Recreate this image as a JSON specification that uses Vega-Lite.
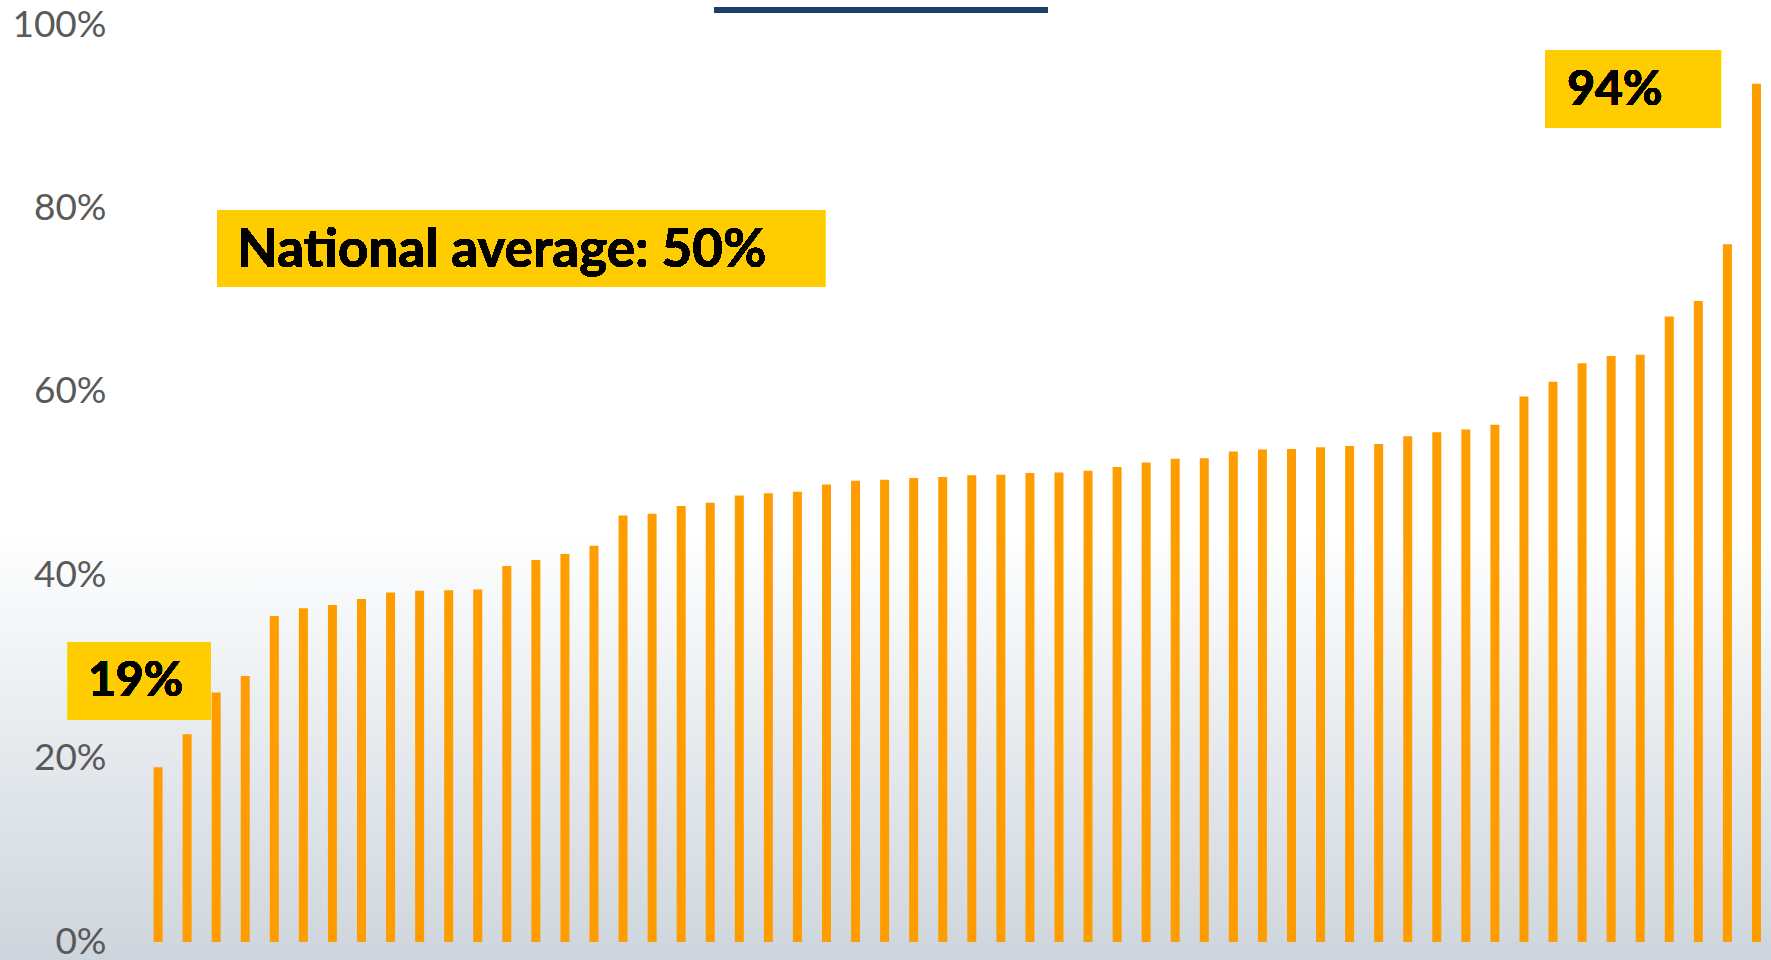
{
  "$schema": "https://vega.github.io/schema/vega-lite/v6.json",
  "width": 1642,
  "height": 917,
  "autosize": {"type": "none"},
  "padding": {"left": 129, "top": 25, "right": 0, "bottom": 18},
  "background": "#FFFFFF",
  "config": {"view": {"stroke": null}},
  "data": {"values": [
    {"i": 1, "v": 19.05}, {"i": 2, "v": 22.65}, {"i": 3, "v": 27.2}, {"i": 4, "v": 29.0},
    {"i": 5, "v": 35.55}, {"i": 6, "v": 36.4}, {"i": 7, "v": 36.75}, {"i": 8, "v": 37.4},
    {"i": 9, "v": 38.1}, {"i": 10, "v": 38.3}, {"i": 11, "v": 38.35}, {"i": 12, "v": 38.45},
    {"i": 13, "v": 41.0}, {"i": 14, "v": 41.65}, {"i": 15, "v": 42.3}, {"i": 16, "v": 43.2},
    {"i": 17, "v": 46.5}, {"i": 18, "v": 46.7}, {"i": 19, "v": 47.55}, {"i": 20, "v": 47.9},
    {"i": 21, "v": 48.7}, {"i": 22, "v": 48.95}, {"i": 23, "v": 49.1}, {"i": 24, "v": 49.9},
    {"i": 25, "v": 50.3}, {"i": 26, "v": 50.4}, {"i": 27, "v": 50.6}, {"i": 28, "v": 50.7},
    {"i": 29, "v": 50.9}, {"i": 30, "v": 50.95}, {"i": 31, "v": 51.15}, {"i": 32, "v": 51.2},
    {"i": 33, "v": 51.4}, {"i": 34, "v": 51.8}, {"i": 35, "v": 52.3}, {"i": 36, "v": 52.7},
    {"i": 37, "v": 52.75}, {"i": 38, "v": 53.5}, {"i": 39, "v": 53.7}, {"i": 40, "v": 53.75},
    {"i": 41, "v": 53.95}, {"i": 42, "v": 54.1}, {"i": 43, "v": 54.3}, {"i": 44, "v": 55.15},
    {"i": 45, "v": 55.6}, {"i": 46, "v": 55.9}, {"i": 47, "v": 56.4}, {"i": 48, "v": 59.5},
    {"i": 49, "v": 61.1}, {"i": 50, "v": 63.1}, {"i": 51, "v": 63.9}, {"i": 52, "v": 64.05},
    {"i": 53, "v": 68.2}, {"i": 54, "v": 69.9}, {"i": 55, "v": 76.1}, {"i": 56, "v": 93.6}
  ]},
  "encoding": {
    "x": {"field": "i", "type": "quantitative", "scale": {"domain": [0, 56.5], "nice": false, "zero": false, "padding": 0}, "axis": null},
    "y": {"field": "v", "type": "quantitative", "scale": {"domain": [0, 100], "nice": false, "padding": 0},
      "axis": {"values": [0, 20, 40, 60, 80, 100], "labelExpr": "datum.value + '%'", "ticks": false, "domain": false, "grid": false, "title": null,
        "labelPadding": 23, "labelFont": "Lato", "labelFontSize": 37, "labelColor": "#595959", "labelFontWeight": "normal", "zindex": 1}}
  },
  "layer": [
    {
      "mark": {"type": "rect", "clip": false,
        "fill": {"gradient": "linear", "x1": 0, "y1": 0, "x2": 0, "y2": 1,
          "stops": [{"offset": 0, "color": "#FFFFFF"}, {"offset": 0.55, "color": "#FFFFFF"}, {"offset": 1, "color": "#CDD5DC"}]}},
      "encoding": {
        "x": {"datum": -4.6}, "x2": {"datum": 56.6},
        "y": {"datum": 103}, "y2": {"datum": -2.3}
      }
    },
    {
      "mark": {"type": "bar", "orient": "vertical", "size": 9, "color": "#FF9D00"},
      "encoding": {}
    },
    {
      "mark": {"type": "rect", "color": "#1F3F68", "clip": false},
      "encoding": {"x": {"datum": 20.13}, "x2": {"datum": 31.62}, "y": {"datum": 101.9}, "y2": {"datum": 101.4}}
    },
    {
      "mark": {"type": "rect", "color": "#FFCC00", "clip": false},
      "encoding": {"x": {"datum": 3.03}, "x2": {"datum": 23.95}, "y": {"datum": 79.83}, "y2": {"datum": 71.43}}
    },
    {
      "mark": {"type": "rect", "color": "#FFCC00", "clip": false},
      "encoding": {"x": {"datum": -2.1}, "x2": {"datum": 2.82}, "y": {"datum": 32.72}, "y2": {"datum": 24.21}}
    },
    {
      "mark": {"type": "rect", "color": "#FFCC00", "clip": false},
      "encoding": {"x": {"datum": 48.73}, "x2": {"datum": 54.78}, "y": {"datum": 97.27}, "y2": {"datum": 88.77}}
    },
    {
      "mark": {"type": "text", "text": "National average: 50%", "align": "left", "baseline": "middle", "font": "Lato", "fontWeight": "bold", "fontSize": 53, "color": "#000000", "clip": false},
      "encoding": {"x": {"datum": 3.72}, "y": {"datum": 75.3}}
    },
    {
      "mark": {"type": "text", "text": "19%", "align": "left", "baseline": "middle", "font": "Lato", "fontWeight": "bold", "fontSize": 48, "color": "#000000", "clip": false},
      "encoding": {"x": {"datum": -1.41}, "y": {"datum": 28.3}}
    },
    {
      "mark": {"type": "text", "text": "94%", "align": "left", "baseline": "middle", "font": "Lato", "fontWeight": "bold", "fontSize": 48, "color": "#000000", "clip": false},
      "encoding": {"x": {"datum": 49.49}, "y": {"datum": 92.75}}
    }
  ]
}
